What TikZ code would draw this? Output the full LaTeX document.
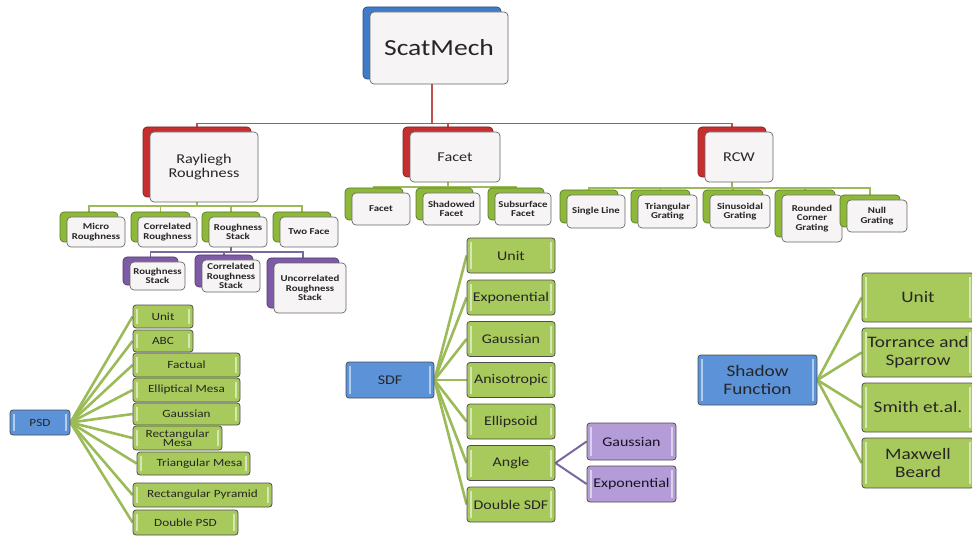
\documentclass[tikz,border=0pt]{standalone}
\usepackage{fontspec}
\setmainfont[FakeStretch=1.2]{Carlito}
\usetikzlibrary{shadows,backgrounds}
\definecolor{redc}{HTML}{C62F30}
\definecolor{greenc}{HTML}{8DB83A}
\definecolor{purplec}{HTML}{7D5BA6}
\definecolor{bluec}{HTML}{3F7BC8}
\definecolor{leafg}{HTML}{A8C95B}
\definecolor{leafp}{HTML}{B39CD8}
\definecolor{leafb}{HTML}{5B92D8}
\definecolor{frontc}{HTML}{F6F4F4}
\definecolor{gline}{HTML}{9BBB59}
\definecolor{pline}{HTML}{7B68A0}
\definecolor{rline}{HTML}{C0504D}
\definecolor{txt}{HTML}{262626}
\tikzset{
  stackbox/.style={rectangle, rounded corners=4pt, draw=black!60, line width=0.7pt, fill=frontc, align=center, inner sep=1pt, text=txt,
     copy shadow={shadow xshift=-7pt, shadow yshift=5pt, fill=#1, draw=#1!65!black, line width=0.7pt}},
  leafbox/.style={rectangle, rounded corners=3pt, draw=black!70, line width=0.8pt, fill=#1, align=center, inner sep=0.5pt, text=txt,
     path picture={
       \draw[white, opacity=0.55, line width=1.3pt] ([xshift=4pt,yshift=-4pt]path picture bounding box.north west) -- ([xshift=4pt,yshift=4pt]path picture bounding box.south west);
       \draw[white, opacity=0.55, line width=1.3pt] ([xshift=-4pt,yshift=-4pt]path picture bounding box.north east) -- ([xshift=-4pt,yshift=4pt]path picture bounding box.south east);}},
  redlink/.style={draw=rline, line width=1.6pt},
  glink/.style={draw=gline, line width=1.8pt},
  plink/.style={draw=pline, line width=1.8pt},
  gfan/.style={draw=gline, line width=2.6pt},
  pfan/.style={draw=pline, line width=2pt},
  lvA/.style={font=\fontsize{13.5}{14}\selectfont},
  lvB/.style={font=\bfseries\fontsize{9}{9.6}\selectfont},
  psdf/.style={font=\fontsize{11}{11.5}\selectfont},
  sdff/.style={font=\fontsize{13.3}{14}\selectfont},
  shff/.style={font=\fontsize{16}{18}\selectfont},
}
\begin{document}
\begin{tikzpicture}[x=1pt,y=-1pt]
\useasboundingbox (0,0) rectangle (972,540);

% level 0 and 1
\node[stackbox=bluec, minimum width=138pt, minimum height=72pt, font=\fontsize{23}{26}\selectfont] (scat) at (439,48) {ScatMech};
\node[stackbox=redc, lvA, minimum width=108pt, minimum height=70pt] (ray) at (204,167) {Rayliegh\\Roughness};
\node[stackbox=redc, lvA, minimum width=90pt, minimum height=50pt] (fac) at (455,157) {Facet};
\node[stackbox=redc, lvA, minimum width=68pt, minimum height=50pt] (rcw) at (739,157) {RCW};

% Rayleigh children
\node[stackbox=greenc, lvB, minimum width=58pt, minimum height=30pt] (micro) at (96,232) {Micro\\Roughness};
\node[stackbox=greenc, lvB, minimum width=59pt, minimum height=30pt] (corr) at (167.5,232) {Correlated\\Roughness};
\node[stackbox=greenc, lvB, minimum width=58pt, minimum height=30pt] (rstk) at (238,232) {Roughness\\Stack};
\node[stackbox=greenc, lvB, minimum width=58pt, minimum height=30pt] (twof) at (309,232) {Two Face};

% Roughness stack children
\node[stackbox=purplec, lvB, minimum width=55pt, minimum height=28pt] (prs) at (157.5,276) {Roughness\\Stack};
\node[stackbox=purplec, lvB, minimum width=58pt, minimum height=32pt] (pcrs) at (231,276) {Correlated\\Roughness\\Stack};
\node[stackbox=purplec, lvB, minimum width=72pt, minimum height=50pt] (pucrs) at (310,288) {Uncorrelated\\Roughness\\Stack};

% Facet children
\node[stackbox=greenc, lvB, minimum width=58pt, minimum height=32pt] (ffac) at (381,209) {Facet};
\node[stackbox=greenc, lvB, minimum width=57pt, minimum height=32pt] (shfac) at (451.5,209) {Shadowed\\Facet};
\node[stackbox=greenc, lvB, minimum width=56pt, minimum height=32pt] (subf) at (523,209) {Subsurface\\Facet};

% RCW children
\node[stackbox=greenc, lvB, minimum width=58pt, minimum height=33pt] (single) at (596,211.5) {Single Line};
\node[stackbox=greenc, lvB, minimum width=59pt, minimum height=33pt] (trig) at (667.5,211.5) {Triangular\\Grating};
\node[stackbox=greenc, lvB, minimum width=60pt, minimum height=33pt] (sinus) at (740,211.5) {Sinusoidal\\Grating};
\node[stackbox=greenc, lvB, minimum width=60pt, minimum height=47pt] (rounded) at (812,218.5) {Rounded\\Corner\\Grating};
\node[stackbox=greenc, lvB, minimum width=60pt, minimum height=32pt] (nullg) at (877,216) {Null\\Grating};

% PSD
\node[leafbox=leafb, psdf, minimum width=60pt, minimum height=25pt] (psd) at (40,422.5) {PSD};
\node[leafbox=leafg, psdf, minimum width=60pt, minimum height=23pt] (punit) at (163,316.5) {Unit};
\node[leafbox=leafg, psdf, minimum width=60pt, minimum height=22pt] (pabc) at (163,341) {ABC};
\node[leafbox=leafg, psdf, minimum width=107pt, minimum height=24pt] (pfact) at (186.5,365) {Factual};
\node[leafbox=leafg, psdf, minimum width=107pt, minimum height=24pt] (pell) at (186.5,390) {Elliptical Mesa};
\node[leafbox=leafg, psdf, minimum width=107pt, minimum height=22pt] (pgau) at (186.5,414) {Gaussian};
\node[leafbox=leafg, psdf, minimum width=89pt, minimum height=24pt, inner sep=0pt] (prmesa) at (177.5,438) {Rectangular\\[-2pt]Mesa};
\node[leafbox=leafg, psdf, minimum width=113pt, minimum height=23pt] (ptmesa) at (193.5,463.5) {\hspace*{12pt}Triangular Mesa};
\node[leafbox=leafg, psdf, minimum width=139pt, minimum height=24pt] (prpyr) at (202.5,495) {Rectangular Pyramid};
\node[leafbox=leafg, psdf, minimum width=105pt, minimum height=25pt] (pdbl) at (185.5,522.5) {Double PSD};

% SDF
\node[leafbox=leafb, sdff, minimum width=88pt, minimum height=36pt] (sdf) at (390,380) {SDF};
\node[leafbox=leafg, sdff, minimum width=88pt, minimum height=35pt] (sunit) at (511,255.5) {Unit};
\node[leafbox=leafg, sdff, minimum width=88pt, minimum height=35pt] (sexp) at (511,297.5) {Exponential};
\node[leafbox=leafg, sdff, minimum width=88pt, minimum height=35pt] (sgau) at (511,339) {Gaussian};
\node[leafbox=leafg, sdff, minimum width=88pt, minimum height=35pt] (sani) at (511,380) {Anisotropic};
\node[leafbox=leafg, sdff, minimum width=88pt, minimum height=35pt] (sell) at (511,421.5) {Ellipsoid};
\node[leafbox=leafg, sdff, minimum width=88pt, minimum height=35pt] (sang) at (511,463) {Angle};
\node[leafbox=leafg, sdff, minimum width=88pt, minimum height=35pt] (sdbl) at (511,504.5) {Double SDF};
\node[leafbox=leafp, sdff, minimum width=89pt, minimum height=37pt, text=black!80!purplec] (agau) at (631.5,441.5) {Gaussian};
\node[leafbox=leafp, sdff, minimum width=89pt, minimum height=36pt, text=black!80!purplec] (aexp) at (631.5,484) {Exponential};

% Shadow function
\node[leafbox=leafb, shff, minimum width=119pt, minimum height=50pt] (shf) at (757.5,380) {Shadow\\Function};
\node[leafbox=leafg, shff, minimum width=112pt, minimum height=49pt] (funit) at (918,297.5) {Unit};
\node[leafbox=leafg, shff, minimum width=112pt, minimum height=49pt] (ftor) at (918,352.5) {Torrance and\\Sparrow};
\node[leafbox=leafg, shff, minimum width=112pt, minimum height=49pt] (fsmi) at (918,407.5) {Smith et.al.};
\node[leafbox=leafg, shff, minimum width=112pt, minimum height=50pt] (fmax) at (918,463) {Maxwell\\Beard};

\begin{scope}[on background layer]
  % red tree
  \draw[redlink] ([xshift=-7pt]scat.south) -- ++(0,39) -| ([xshift=-7pt,yshift=5pt]ray.north);
  \draw[redlink] ([xshift=-7pt]scat.south) -- ++(0,39) -| ([xshift=-7pt,yshift=5pt]fac.north);
  \draw[redlink] ([xshift=-7pt]scat.south) -- ++(0,39) -| ([xshift=-7pt,yshift=5pt]rcw.north);
  % Rayleigh
  \foreach \c in {micro,corr,rstk,twof}
    \draw[glink] ([xshift=-7pt]ray.south) -- ++(0,4) -| ([xshift=-7pt,yshift=5pt]\c.north);
  \foreach \c in {prs,pcrs,pucrs}
    \draw[plink] ([xshift=-7pt]rstk.south) -- ++(0,5) -| ([xshift=-7pt,yshift=5pt]\c.north);
  \foreach \c in {ffac,shfac,subf}
    \draw[glink] ([xshift=-7pt]fac.south) -- ++(0,5) -| ([xshift=-7pt,yshift=5pt]\c.north);
  \foreach \c in {single,trig,sinus,rounded,nullg}
    \draw[glink] ([xshift=-7pt]rcw.south) -- ++(0,6) -| ([xshift=-7pt,yshift=5pt]\c.north);
  % fans
  \foreach \c in {punit,pabc,pfact,pell,pgau,prmesa,ptmesa,prpyr,pdbl}
    \draw[gfan] (psd.east) -- (\c.west);
  \foreach \c in {sunit,sexp,sgau,sani,sell,sang,sdbl}
    \draw[gfan] (sdf.east) -- (\c.west);
  \foreach \c in {funit,ftor,fsmi,fmax}
    \draw[gfan] (shf.east) -- (\c.west);
  \draw[pfan] (sang.east) -- (agau.west);
  \draw[pfan] (sang.east) -- (aexp.west);
\end{scope}
\end{tikzpicture}
\end{document}
